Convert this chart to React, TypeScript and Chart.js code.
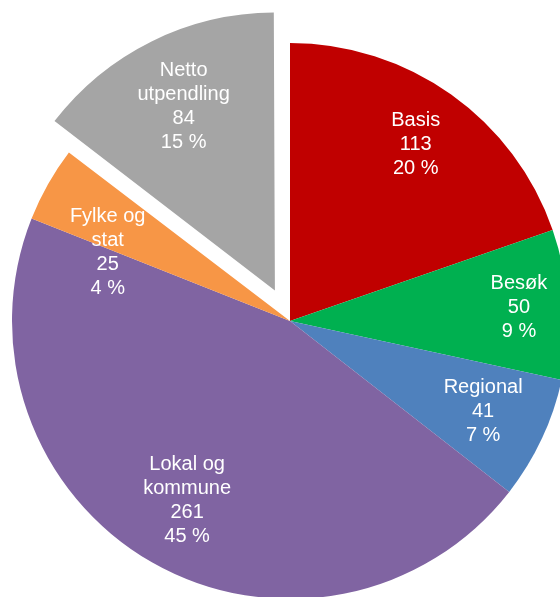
import React, { useEffect, useRef } from "react";
import { Chart, registerables } from "chart.js";

Chart.register(...registerables);

const categories: string[][] = [
  ["Basis"],
  ["Besøk"],
  ["Regional"],
  ["Lokal og", "kommune"],
  ["Fylke og", "stat"],
  ["Netto", "utpendling"],
];
const values: number[] = [113, 50, 41, 261, 25, 84];
const colors: string[] = ["#C00000", "#00B050", "#4F81BD", "#8064A2", "#F79646", "#A5A5A5"];

const RADIUS = 278;
const EXPLODE_INDEX = 5;
const EXPLODE_OFFSET = 136; // chart.js translates arcs by offset/4
const labelRatio = [0.78, 0.825, 0.767, 0.745, 0.7, 0.74];
const labelAngleShift = [0, 0, 0, 0, -9, 0];

const fixOffsetPlugin = {
  id: "fixOffset",
  afterDatasetUpdate(chart: any, args: any) {
    const meta = chart.getDatasetMeta(args.index);
    meta.data.forEach((arc: any, i: number) => {
      if (i === EXPLODE_INDEX) {
        const circ = arc.endAngle - arc.startAngle;
        const fix = 1 - Math.sin(Math.min(Math.PI, circ));
        arc.outerRadius = RADIUS - (EXPLODE_OFFSET / 4) * fix;
      }
    });
  },
};

const labelPlugin = {
  id: "sliceLabels",
  afterDatasetsDraw(chart: any) {
    const ctx = chart.ctx;
    const meta = chart.getDatasetMeta(0);
    const total = values.reduce((a, b) => a + b, 0);
    ctx.save();
    ctx.fillStyle = "#FFFFFF";
    ctx.font = "20px 'Liberation Sans', Arial, sans-serif";
    ctx.textAlign = "center";
    ctx.textBaseline = "middle";
    meta.data.forEach((arc: any, i: number) => {
      const mid = (arc.startAngle + arc.endAngle) / 2;
      let cx = arc.x;
      let cy = arc.y;
      if (i === EXPLODE_INDEX) {
        cx += Math.cos(mid) * EXPLODE_OFFSET / 4;
        cy += Math.sin(mid) * EXPLODE_OFFSET / 4;
      }
      const a = mid + (labelAngleShift[i] * Math.PI) / 180;
      const r = RADIUS * labelRatio[i];
      const px = cx + Math.cos(a) * r;
      const py = cy + Math.sin(a) * r;
      const lines = [
        ...categories[i],
        String(values[i]),
        Math.round((values[i] / total) * 100) + " %",
      ];
      const lh = 24;
      const start = py - ((lines.length - 1) * lh) / 2;
      lines.forEach((t, k) => ctx.fillText(t, px, start + k * lh));
    });
    ctx.restore();
  },
};

export default function App() {
  const ref = useRef<HTMLCanvasElement | null>(null);
  useEffect(() => {
    if (!ref.current) return;
    const chart = new Chart(ref.current, {
      type: "pie",
      data: {
        labels: categories.map((c) => c.join(" ")),
        datasets: [
          {
            data: values,
            backgroundColor: colors,
            borderWidth: 0,
            offset: values.map((_, i) => (i === EXPLODE_INDEX ? EXPLODE_OFFSET : 0)),
          },
        ],
      },
      options: {
        animation: false,
        responsive: false,
        radius: RADIUS,
        layout: { padding: 0 },
        plugins: {
          legend: { display: false },
          tooltip: { enabled: false },
        },
        events: [],
      } as any,
      plugins: [fixOffsetPlugin, labelPlugin],
    });
    return () => chart.destroy();
  }, []);
  return (
    <div
      style={{
        position: "fixed",
        left: 0,
        top: 0,
        width: 560,
        height: 597,
        overflow: "hidden",
        background: "#FFFFFF",
      }}
    >
      <canvas ref={ref} width={580} height={642} style={{ display: "block" }} />
    </div>
  );
}
